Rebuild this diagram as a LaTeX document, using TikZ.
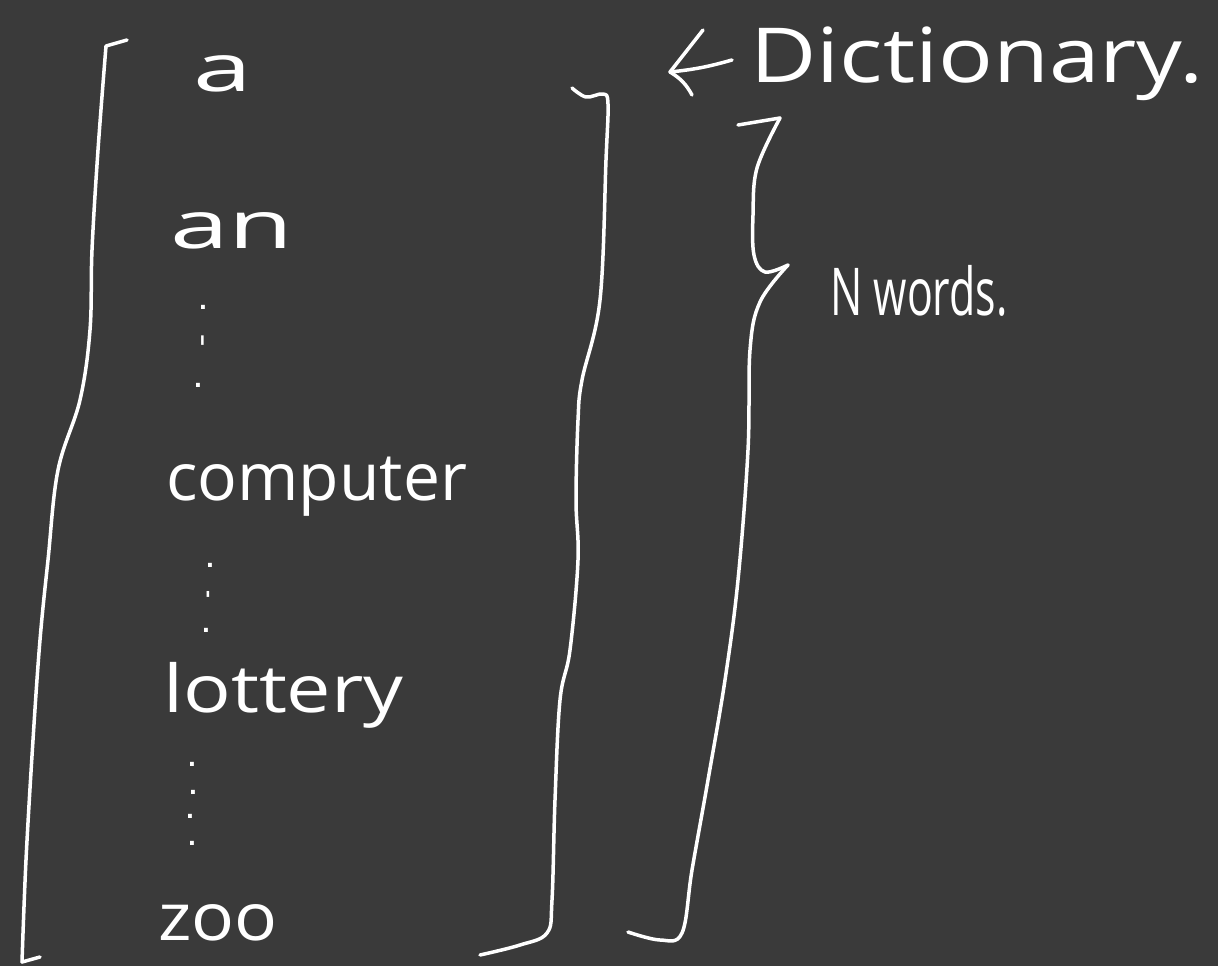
\documentclass[tikz,border=0pt]{standalone}
\usepackage{fontspec}
\setmainfont{Open Sans}
\newfontfamily\symfont{DejaVu Sans}
\definecolor{bg}{HTML}{3A3A3A}
\tikzset{
  ink/.style={draw=white,line width=3.5pt,line cap=round,line join=round},
  word/.style={text=white,inner sep=0pt,font=\fontsize{66}{70}\selectfont},
  dotmark/.style={text=white,inner sep=0pt,font=\symfont\bfseries\fontsize{22}{22}\selectfont},
}
\begin{document}
\begin{tikzpicture}[x=1pt,y=-1pt]
\useasboundingbox (0,0) rectangle (1218,966);
\fill[bg] (0,0) rectangle (1218,966);
% words
\node[word,anchor=base west] (a) at (193,92) {\scalebox{1.6}[1]{a}};
\node[word,anchor=base west] (an) at (170,248) {\scalebox{1.6}[1]{an}};
\node[word,anchor=base west] (comp) at (166,500) {computer};
\node[word,anchor=base west] (lot) at (163,712) {\scalebox{1.2}[1]{lottery}};
\node[word,anchor=base west] (zoo) at (158,940) {\scalebox{1.08}[1]{zoo}};
\node[word,anchor=base west] (dict) at (750,82) {\scalebox{1.38}[1.15]{Dictionary.}};
\node[word,anchor=base west] (nw) at (830,315) {\scalebox{0.65}[1]{N words.}};
% vertical dots
\node[dotmark] (p1) at (203,307) {.};
\node[dotmark] (p2) at (203,349) {\scalebox{1}[1.6]{'}};
\node[dotmark] (p3) at (198,385) {.};
\node[dotmark] (q1) at (210,565) {.};
\node[dotmark] (q2) at (208,599) {'};
\node[dotmark] (q3) at (206,630) {.};
\node[dotmark] (r1) at (192,764) {.};
\node[dotmark] (r2) at (193,792) {.};
\node[dotmark] (r3) at (190,816) {.};
\node[dotmark] (r4) at (192,843) {.};
% arrow to Dictionary
\coordinate (tip) at (670,72);
\coordinate (tail) at (732,60);
\draw[ink] (tail) to[bend left=5] (tip);
\draw[ink] (tip) -- (703,30);
\draw[ink] (tip) to[bend left=15] (692,95);
% left bracket
\draw[ink] (127,40) -- (106,46)
  plot[smooth,tension=0.6] coordinates {(106,46) (98,150) (92,250) (90,330) (80,400) (58,470) (48,560) (40,640) (33,740) (26,860) (22,962)};
\draw[ink] (22,962) -- (40,957);
% right bracket
\draw[ink] plot[smooth,tension=0.6] coordinates {(572,88) (586,97) (603,94) (608,104) (606,160) (600,300) (582,380) (578,420) (576,500) (578,560) (570,650) (560,700) (555,800) (552,900) (547,933) (520,945) (480,955)};
% N words brace
\draw[ink] (738,125) -- (780,118);
\draw[ink] plot[smooth,tension=0.6] coordinates {(780,118) (757,168) (753,215) (754,255) (765,272) (788,265)};
\draw[ink] plot[smooth,tension=0.6] coordinates {(788,265) (760,302) (750,350) (748,450) (738,580) (725,680) (708,780) (692,870) (682,933) (660,940) (628,932)};
\end{tikzpicture}
\end{document}
